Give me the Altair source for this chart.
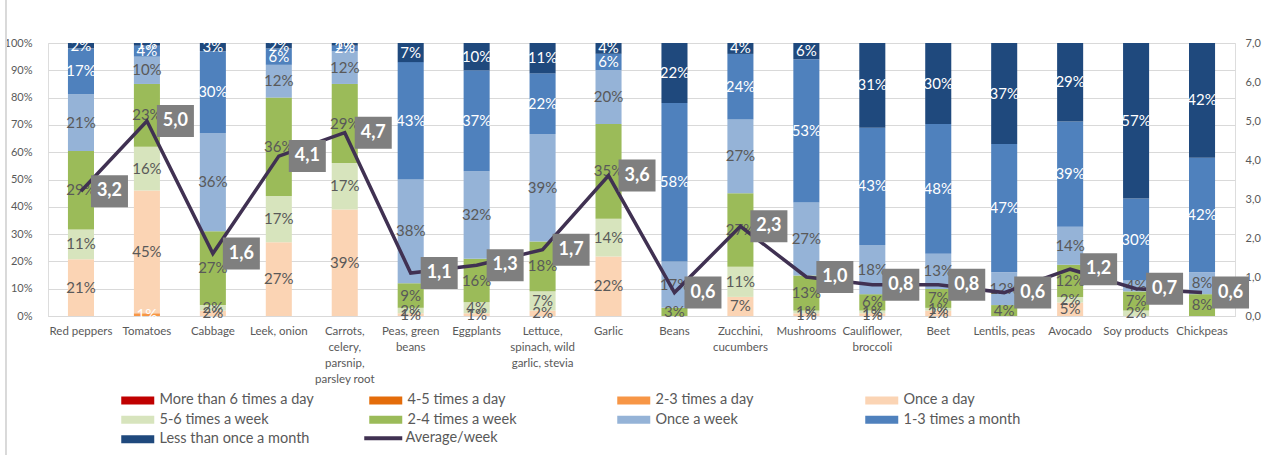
import altair as alt
import pandas as pd

categories = ["Red peppers", "Tomatoes", "Cabbage", "Leek, onion",
              "Carrots,\ncelery,\nparsnip,\nparsley root", "Peas, green\nbeans", "Eggplants",
              "Lettuce,\nspinach, wild\ngarlic, stevia", "Garlic", "Beans", "Zucchini,\ncucumbers",
              "Mushrooms", "Cauliflower,\nbroccoli", "Beet", "Lentils, peas", "Avocado",
              "Soy products", "Chickpeas"]

series_names = ["More than 6 times a day", "4-5 times a day", "2-3 times a day", "Once a day",
                "5-6 times a week", "2-4 times a week", "Once a week", "1-3 times a month",
                "Less than once a month"]
series_colors = ["#C00000", "#E46C0A", "#F79646", "#FBD4B4", "#D7E4BD", "#9BBB59",
                 "#95B3D7", "#4F81BD", "#1F497D"]
label_colors = ["#FFFFFF", "#FFFFFF", "#FFFFFF", "#595959", "#595959", "#595959",
                "#595959", "#FFFFFF", "#FFFFFF"]

more_than_6_day = [0] * 18
four_five_day = [0] * 18
two_three_day = [0, 1, 0, 0, 0, 0, 0, 0, 0, 0, 0, 0, 0, 0, 0, 0, 0, 0]
once_day = [21, 45, 2, 27, 39, 1, 1, 2, 22, 0, 7, 1, 1, 2, 0, 5, 0, 0]
five_six_week = [11, 16, 2, 17, 17, 2, 4, 7, 14, 0, 11, 1, 1, 1, 0, 2, 2, 0]
two_four_week = [29, 23, 27, 36, 29, 9, 16, 18, 35, 3, 27, 13, 6, 7, 4, 12, 7, 8]
once_week = [21, 10, 36, 12, 12, 38, 32, 39, 20, 17, 27, 27, 18, 13, 12, 14, 4, 8]
one_three_month = [17, 4, 30, 6, 2, 43, 37, 22, 6, 58, 24, 53, 43, 48, 47, 39, 30, 42]
less_month = [2, 1, 3, 2, 1, 7, 10, 11, 4, 22, 4, 6, 31, 30, 37, 29, 57, 42]

average_week = [3.2, 5.0, 1.6, 4.1, 4.7, 1.1, 1.3, 1.7, 3.6, 0.6, 2.3, 1.0, 0.8, 0.8,
                0.6, 1.2, 0.7, 0.6]

series_values = [more_than_6_day, four_five_day, two_three_day, once_day, five_six_week,
                 two_four_week, once_week, one_three_month, less_month]

rows = []
for si, (name, vals) in enumerate(zip(series_names, series_values)):
    for ci, cat in enumerate(categories):
        rows.append({"cat": cat, "series": name, "value": vals[ci], "order": si,
                     "tcolor": label_colors[si]})
bars_df = pd.DataFrame(rows)
avg_df = pd.DataFrame({"cat": categories, "avg": average_week,
                       "line": ["Average/week"] * len(categories)})

# order of the domain so that the legend grid reads row by row like the reference
legend_order = [0, 3, 6, 1, 4, 7, 2, 5, 8]
dom = [series_names[i] for i in legend_order]
rng = [series_colors[i] for i in legend_order]

FONT = "Lato"
GRAY = "#595959"

x_enc = alt.X("cat:N", sort=categories, title=None,
              scale=alt.Scale(paddingInner=0, paddingOuter=0),
              axis=alt.Axis(labelAngle=0, ticks=False, labelPadding=9, labelFontSize=11.5,
                            labelColor=GRAY, labelFont=FONT, labelLineHeight=16,
                            labelExpr="split(datum.label, '\\n')", domain=True,
                            domainColor="#D9D9D9", labelLimit=200))

base = alt.Chart(bars_df).transform_filter("datum.value > 0").transform_joinaggregate(
    total="sum(value)", groupby=["cat"]
).transform_calculate(
    frac="datum.value / datum.total"
).transform_stack(
    stack="frac", groupby=["cat"], sort=[alt.SortField("order", "ascending")], as_=["y0", "y1"]
).transform_calculate(
    mid="(datum.y0 + datum.y1) / 2", lab="datum.value + '%'"
)

y_axis = alt.Axis(format="%", values=[i / 10 for i in range(11)], grid=True, gridColor="#D9D9D9",
                  domain=False, ticks=False, labelPadding=16, labelFontSize=11,
                  labelColor=GRAY, labelFont=FONT, labelOverlap=False)

bars = base.mark_bar(width=alt.RelativeBandSize(0.395)).encode(
    x=x_enc,
    y=alt.Y("y0:Q", scale=alt.Scale(domain=[0, 1], nice=False), axis=y_axis, title=None),
    y2="y1:Q",
    color=alt.Color("series:N", scale=alt.Scale(domain=dom, range=rng),
                    legend=alt.Legend(title=None, orient="none", legendX=94, legendY=350,
                                      columns=4, gridAlign="all", columnPadding=55,
                                      rowPadding=4.5, symbolType="M-5.6,-0.8L1,-0.8L1,0.8L-5.6,0.8Z",
                                      symbolSize=100, symbolStrokeWidth=0, labelOffset=3,
                                      labelFontSize=14.5, labelColor=GRAY, labelFont=FONT,
                                      labelLimit=300)),
)

labels = base.mark_text(fontSize=15, font=FONT).encode(
    x=x_enc,
    y=alt.Y("mid:Q", scale=alt.Scale(domain=[0, 1], nice=False), axis=y_axis, title=None),
    text="lab:N",
    color=alt.Color("tcolor:N", scale=None),
)

avg_base = alt.Chart(avg_df).transform_calculate(
    avglab="replace(format(datum.avg, '.1f'), '.', ',')"
)
y2_axis = alt.Axis(orient="right", values=list(range(8)), grid=False, domain=False, ticks=False,
                   labelPadding=10, labelFontSize=11, labelColor=GRAY, labelFont=FONT,
                   labelOverlap=False,
                   labelExpr="replace(format(datum.value, '.1f'), '.', ',')")
y2 = alt.Y("avg:Q", scale=alt.Scale(domain=[0, 7], nice=False), axis=y2_axis, title=None)

line = avg_base.mark_line(strokeWidth=3.5).encode(
    x=x_enc, y=y2,
    stroke=alt.Stroke("line:N", scale=alt.Scale(domain=["Average/week"], range=["#403152"]),
                      legend=alt.Legend(title=None, orient="none", legendX=342, legendY=388,
                                        symbolType="M-6.6,0L1,0", symbolSize=100,
                                        symbolStrokeWidth=4, labelOffset=1, labelFontSize=14.5,
                                        labelColor=GRAY, labelFont=FONT)),
)
boxes = avg_base.mark_point(shape="M-1.156,-1L1.156,-1L1.156,1L-1.156,1Z", size=1024,
                            filled=True, color="#7F7F7F", opacity=1, xOffset=28.5).encode(
    x=x_enc, y=y2)
box_text = avg_base.mark_text(fontSize=18, fontWeight="bold", font=FONT, color="white",
                              dx=28.5).encode(x=x_enc, y=y2, text="avglab:N")

border = alt.Chart(avg_df).mark_rule(color="#D9D9D9", strokeWidth=1).encode(
    x=alt.value(-42), y=alt.value(-43), y2=alt.value(412))

chart = alt.layer(
    alt.layer(bars, labels),
    alt.layer(line, boxes, box_text, border),
).resolve_scale(y="independent").properties(
    width=1187, height=273,
    autosize=alt.AutoSizeParams(type="none"),
    padding={"left": 48, "top": 43, "right": 28, "bottom": 139},
    background="white",
).configure_view(stroke=None).configure_axis(
    labelOverlap=False, domain=False
).configure(font=FONT)

chart.save("out.html", embed_options={"renderer": "svg", "actions": False})
